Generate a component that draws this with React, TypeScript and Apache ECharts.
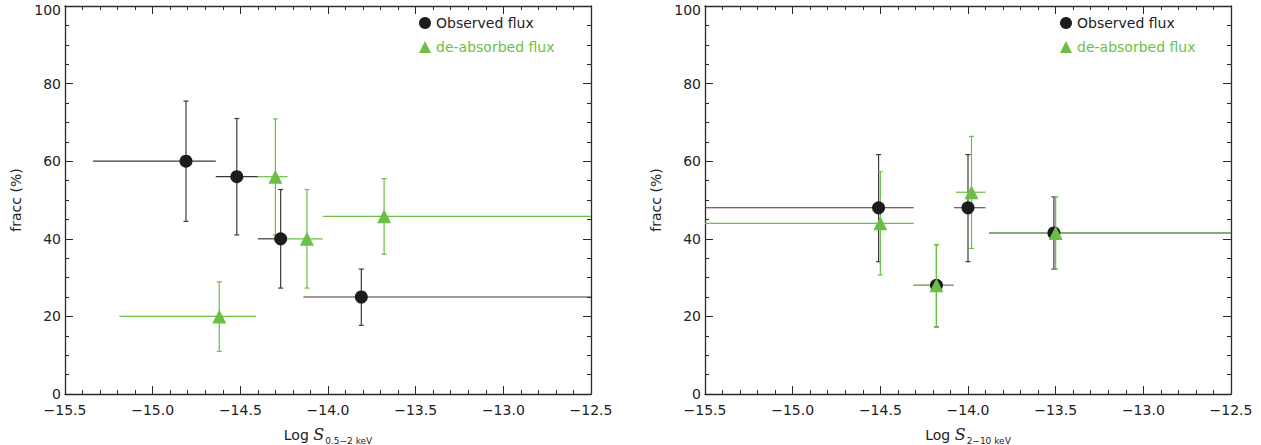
import React, { useEffect, useRef } from "react";
import * as echarts from "echarts";

// ---- Data: left panel (0.5-2 keV) ----
const leftObsX = [-14.81, -14.52, -14.27, -13.81];
const leftObsY = [60, 56, 40, 25];
const leftObsXLo = [-15.34, -14.64, -14.4, -14.14];
const leftObsXHi = [-14.64, -14.4, -14.24, -12.5];
const leftObsYLo = [44.5, 41, 27.3, 17.7];
const leftObsYHi = [75.5, 71, 52.7, 32.2];

const leftAbsX = [-14.62, -14.3, -14.12, -13.68];
const leftAbsY = [20, 56, 40, 45.8];
const leftAbsXLo = [-15.19, -14.4, -14.24, -14.03];
const leftAbsXHi = [-14.41, -14.23, -14.03, -12.5];
const leftAbsYLo = [11, 41, 27.3, 36];
const leftAbsYHi = [28.9, 70.9, 52.7, 55.5];

// ---- Data: right panel (2-10 keV) ----
const rightObsX = [-14.51, -14.18, -14.0, -13.51];
const rightObsY = [48, 28, 48, 41.5];
const rightObsXLo = [-15.5, -14.31, -14.08, -13.88];
const rightObsXHi = [-14.31, -14.08, -13.9, -12.5];
const rightObsYLo = [34.1, 17.3, 34.1, 32.2];
const rightObsYHi = [61.7, 38.5, 61.7, 50.8];

const rightAbsX = [-14.5, -14.18, -13.98, -13.5];
const rightAbsY = [44, 28, 52, 41.5];
const rightAbsXLo = [-15.5, -14.31, -14.07, -13.88];
const rightAbsXHi = [-14.31, -14.08, -13.9, -12.5];
const rightAbsYLo = [30.7, 17.3, 37.5, 32.2];
const rightAbsYHi = [57.3, 38.5, 66.4, 50.8];

const xTicksMin = -15.5;
const xTicksMax = -12.5;
const yTicksMin = 0;
const yTicksMax = 100;

const OBS_NAME = "Observed flux";
const ABS_NAME = "de-absorbed flux";

const BLACK = "#1c1c1c";
const BAR_BLACK = "#3a3a3a";
const GREEN = "#6bbf47";
const TEXT = "#222222";
const FONT = "DejaVu Sans";

function rows(x: number[], y: number[], xlo: number[], xhi: number[], ylo: number[], yhi: number[]) {
  return x.map((v, i) => [v, y[i], xlo[i], xhi[i], ylo[i], yhi[i]]);
}

function errSeries(data: number[][], color: string, gi: number, name: string) {
  return {
    type: "custom",
    name,
    xAxisIndex: gi * 2,
    yAxisIndex: gi * 2,
    data,
    encode: { x: 0, y: 1 },
    z: 2,
    renderItem: (params: any, api: any) => {
      const x = api.value(0);
      const y = api.value(1);
      const pL = api.coord([api.value(2), y]);
      const pR = api.coord([api.value(3), y]);
      const pT = api.coord([x, api.value(5)]);
      const pB = api.coord([x, api.value(4)]);
      const cap = 2.5;
      const st = { stroke: color, lineWidth: 1.2 };
      return {
        type: "group",
        children: [
          { type: "line", shape: { x1: pL[0], y1: pL[1], x2: pR[0], y2: pR[1] }, style: st },
          { type: "line", shape: { x1: pT[0], y1: pT[1], x2: pB[0], y2: pB[1] }, style: st },
          { type: "line", shape: { x1: pT[0] - cap, y1: pT[1], x2: pT[0] + cap, y2: pT[1] }, style: st },
          { type: "line", shape: { x1: pB[0] - cap, y1: pB[1], x2: pB[0] + cap, y2: pB[1] }, style: st },
        ],
      };
    },
  };
}

function xAxes(gi: number, sub: string) {
  const common = {
    type: "value",
    gridIndex: gi,
    min: xTicksMin,
    max: xTicksMax,
    interval: 0.5,
    splitLine: { show: false },
    axisLine: { show: true, onZero: false, lineStyle: { color: "#2a2a2a", width: 1.3 } },
    axisTick: { show: true, inside: true, length: 8, lineStyle: { color: "#2a2a2a", width: 1 } },
    minorTick: { show: true, splitNumber: 5, length: 4, lineStyle: { color: "#2a2a2a", width: 1 } },
    minorSplitLine: { show: false },
  };
  return [
    {
      ...common,
      position: "bottom",
      axisLabel: {
        show: true,
        margin: 9,
        color: TEXT,
        fontFamily: FONT,
        fontSize: 14,
        formatter: (v: number) => (v < 0 ? "\u2212" : "") + Math.abs(v).toFixed(1),
      },
      name: "{n|Log }{s|S}{b|" + sub + "}",
      nameLocation: "middle",
      nameGap: 30,
      nameTextStyle: {
        rich: {
          n: { fontFamily: FONT, fontSize: 14, color: TEXT },
          s: { fontFamily: "DejaVu Serif", fontStyle: "italic", fontSize: 16, color: TEXT },
          b: { fontFamily: FONT, fontSize: 9, color: TEXT, padding: [12, 0, 0, 1] },
        },
      },
    },
    { ...common, position: "top", axisLabel: { show: false } },
  ];
}

function yAxes(gi: number) {
  const common = {
    type: "value",
    gridIndex: gi,
    min: yTicksMin,
    max: yTicksMax,
    interval: 20,
    splitLine: { show: false },
    axisLine: { show: true, onZero: false, lineStyle: { color: "#2a2a2a", width: 1.3 } },
    axisTick: { show: true, inside: true, length: 8, lineStyle: { color: "#2a2a2a", width: 1 } },
    minorTick: { show: true, splitNumber: 4, length: 4, lineStyle: { color: "#2a2a2a", width: 1 } },
    minorSplitLine: { show: false },
  };
  return [
    {
      ...common,
      position: "left",
      axisLabel: {
        show: true,
        margin: 4,
        color: TEXT,
        fontFamily: FONT,
        fontSize: 14,
        formatter: (v: number) => (v === yTicksMax ? "{t|" + v + "}" : String(v)),
        rich: {
          t: { fontFamily: FONT, fontSize: 14, color: TEXT, padding: [7, 0, 0, 0] },
        },
      },
      name: "fracc (%)",
      nameLocation: "middle",
      nameGap: 42,
      nameTextStyle: { fontFamily: FONT, fontSize: 14, color: TEXT },
    },
    { ...common, position: "right", axisLabel: { show: false } },
  ];
}

function scatter(name: string, x: number[], y: number[], gi: number, symbol: string, color: string, size: number) {
  return {
    type: "scatter",
    name,
    xAxisIndex: gi * 2,
    yAxisIndex: gi * 2,
    data: x.map((v, i) => [v, y[i]]),
    symbol,
    symbolSize: size,
    itemStyle: { color, opacity: 1 },
    z: 5,
  };
}

function legend(left: number) {
  return {
    orient: "vertical",
    left,
    top: 16,
    padding: 0,
    itemWidth: 12,
    itemHeight: 12,
    itemGap: 10,
    selectedMode: false,
    textStyle: { fontFamily: FONT, fontSize: 14, color: TEXT, padding: [0, 0, 3, 0] },
    data: [
      { name: OBS_NAME, icon: "circle", textStyle: { color: TEXT } },
      { name: ABS_NAME, icon: "triangle", textStyle: { color: GREEN } },
    ],
  };
}

export default function App() {
  const ref = useRef<HTMLDivElement>(null);
  useEffect(() => {
    if (!ref.current) return;
    const chart = echarts.init(ref.current, undefined, { renderer: "svg" });
    const option = {
      animation: false,
      backgroundColor: "#ffffff",
      grid: [
        { left: 65, top: 6, width: 526, height: 388, outerBoundsMode: "none", containLabel: false },
        { left: 705, top: 6, width: 526, height: 388, outerBoundsMode: "none", containLabel: false },
      ],
      xAxis: [...xAxes(0, "0.5\u22122 keV"), ...xAxes(1, "2\u221210 keV")],
      yAxis: [...yAxes(0), ...yAxes(1)],
      legend: [legend(419), legend(1060)],
      series: [
        errSeries(rows(leftObsX, leftObsY, leftObsXLo, leftObsXHi, leftObsYLo, leftObsYHi), BAR_BLACK, 0, "errObsL"),
        errSeries(rows(leftAbsX, leftAbsY, leftAbsXLo, leftAbsXHi, leftAbsYLo, leftAbsYHi), GREEN, 0, "errAbsL"),
        scatter(OBS_NAME, leftObsX, leftObsY, 0, "circle", BLACK, 13),
        scatter(ABS_NAME, leftAbsX, leftAbsY, 0, "triangle", GREEN, 14),
        errSeries(rows(rightObsX, rightObsY, rightObsXLo, rightObsXHi, rightObsYLo, rightObsYHi), BAR_BLACK, 1, "errObsR"),
        errSeries(rows(rightAbsX, rightAbsY, rightAbsXLo, rightAbsXHi, rightAbsYLo, rightAbsYHi), GREEN, 1, "errAbsR"),
        scatter(OBS_NAME, rightObsX, rightObsY, 1, "circle", BLACK, 13),
        scatter(ABS_NAME, rightAbsX, rightAbsY, 1, "triangle", GREEN, 14),
      ],
    };
    chart.setOption(option as any);
    return () => chart.dispose();
  }, []);
  return (
    <div
      ref={ref}
      style={{ position: "fixed", left: 0, top: 0, width: "1261px", height: "445px" }}
    />
  );
}
